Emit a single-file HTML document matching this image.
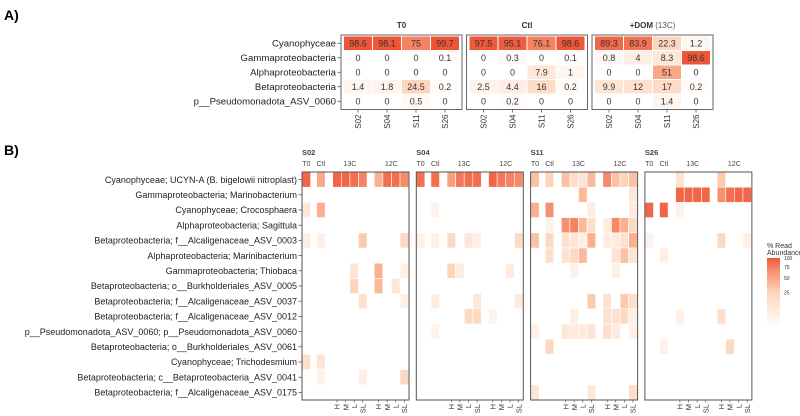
<!DOCTYPE html>
<html><head><meta charset="utf-8">
<style>
html,body{margin:0;padding:0;background:#fff;}
svg{display:block;font-family:"Liberation Sans",Arial,sans-serif;}
</style></head>
<body>
<svg id="chart" width="800" height="416" viewBox="0 0 800 416" xmlns="http://www.w3.org/2000/svg">
<text x="4" y="20" font-size="14" font-weight="bold">A)</text>
<text x="4" y="155" font-size="14" font-weight="bold">B)</text>
</svg>
<script>
// ---------- Panel A data ----------
const aTaxa = ["Cyanophyceae","Gammaproteobacteria","Alphaproteobacteria","Betaproteobacteria","p__Pseudomonadota_ASV_0060"];
const aGroups = ["T0","Ctl","+DOM"];
const aSamples = ["S02","S04","S11","S26"];
const aT0 = [[98.6,98.1,75,99.7],[0,0,0,0.1],[0,0,0,0],[1.4,1.8,24.5,0.2],[0,0,0.5,0]];
const aCtl = [[97.5,95.1,76.1,98.6],[0,0.3,0,0.1],[0,0,7.9,1],[2.5,4.4,16,0.2],[0,0.2,0,0]];
const aDom = [[89.3,83.9,22.3,1.2],[0.8,4,8.3,98.6],[0,0,51,0],[9.9,12,17,0.2],[0,0,1.4,0]];

// ---------- Panel B data ----------
const bTaxa = ["Cyanophyceae; UCYN-A (B. bigelowii nitroplast)","Gammaproteobacteria; Marinobacterium","Cyanophyceae; Crocosphaera","Alphaproteobacteria; Sagittula","Betaproteobacteria; f__Alcaligenaceae_ASV_0003","Alphaproteobacteria; Marinibacterium","Gammaproteobacteria; Thiobaca","Betaproteobacteria; o__Burkholderiales_ASV_0005","Betaproteobacteria; f__Alcaligenaceae_ASV_0037","Betaproteobacteria; f__Alcaligenaceae_ASV_0012","p__Pseudomonadota_ASV_0060; p__Pseudomonadota_ASV_0060","Betaproteobacteria; o__Burkholderiales_ASV_0061","Cyanophyceae; Trichodesmium","Betaproteobacteria; c__Betaproteobacteria_ASV_0041","Betaproteobacteria; f__Alcaligenaceae_ASV_0175"];
const bSites = ["S02","S04","S11","S26"];
const bCols = ["T0","Ctl","H13","M13","L13","SL13","H12","M12","L12","SL12"];
const bColLabels = ["","","H","M","L","SL","H","M","L","SL"];
const bS02 = [
 [90,50,90,90,85,75,45,85,85,70],
 [0,0,0,0,0,0,0,0,0,0],
 [8,45,0,0,0,0,0,0,0,0],
 [0,0,0,0,0,0,0,0,0,0],
 [4,4,0,0,0,30,0,0,0,20],
 [0,0,0,0,0,0,0,0,0,0],
 [0,0,0,0,10,0,45,0,0,3],
 [0,0,0,0,25,0,40,0,8,0],
 [0,0,0,0,0,12,0,0,0,3],
 [0,0,0,0,0,0,0,0,0,0],
 [0,0,0,0,0,0,0,0,0,0],
 [0,0,0,0,0,0,0,0,0,0],
 [15,10,0,0,0,0,0,0,0,0],
 [0,2,0,0,0,4,0,0,0,20],
 [0,0,0,0,0,0,0,0,0,0]];
const bS04 = [
 [85,85,55,80,85,85,90,80,75,70],
 [0,0,0,0,0,0,0,0,0,0],
 [0,2,0,0,0,0,0,0,0,0],
 [0,0,0,0,0,0,0,0,0,0],
 [3,3,20,0,8,3,0,0,0,18],
 [0,0,0,0,0,0,0,0,0,0],
 [0,0,25,5,0,0,0,0,5,0],
 [0,0,0,0,0,0,0,0,0,0],
 [0,5,0,0,0,8,0,0,0,6],
 [0,0,0,0,18,18,2,0,0,0],
 [0,2,0,0,0,0,0,0,0,0],
 [0,0,0,0,0,0,0,0,0,0],
 [0,0,0,0,0,0,0,0,0,0],
 [0,0,0,0,0,0,0,0,0,0],
 [0,0,0,0,0,0,0,0,0,0]];
const bS11 = [
 [35,25,35,15,10,40,70,35,25,35],
 [0,0,0,0,40,0,0,0,0,8],
 [45,65,0,0,0,5,0,0,0,6],
 [0,2,65,75,40,15,5,70,45,20],
 [35,20,12,8,4,45,5,6,12,45],
 [0,15,12,20,40,0,0,10,35,10],
 [0,0,0,3,0,0,0,3,0,0],
 [0,0,0,0,0,0,0,0,0,0],
 [0,0,0,0,0,30,12,0,30,15],
 [0,0,0,4,0,0,12,12,20,3],
 [3,0,8,6,6,10,15,6,0,3],
 [0,20,0,0,0,0,0,0,0,0],
 [0,0,0,0,0,0,0,0,0,0],
 [0,0,0,0,0,0,0,0,0,0],
 [8,0,0,0,0,8,0,0,0,15]];
const bS26 = [
 [0,0,12,0,0,0,30,0,0,0],
 [0,0,90,90,90,90,65,85,90,90],
 [90,90,2,0,0,0,0,0,0,0],
 [0,0,0,0,0,0,0,0,0,0],
 [2,0,0,0,0,0,20,0,0,3],
 [0,4,0,0,0,0,0,0,0,0],
 [0,0,0,0,0,0,0,0,0,0],
 [0,0,0,0,0,0,0,0,0,0],
 [0,0,0,0,0,0,0,0,0,0],
 [0,0,3,0,0,0,15,0,0,0],
 [0,0,0,0,0,0,0,0,0,0],
 [0,2,0,0,0,0,0,20,0,0],
 [0,0,0,0,0,0,0,0,0,0],
 [0,0,0,0,0,0,0,0,0,0],
 [0,0,0,0,0,0,0,0,0,0]];
const legendTicks = [100,75,50,25];

const NS = "http://www.w3.org/2000/svg";
const svg = document.getElementById("chart");
function mk(tag, attrs, parent){
  const e = document.createElementNS(NS, tag);
  for (const k in attrs) e.setAttribute(k, attrs[k]);
  (parent||svg).appendChild(e);
  return e;
}
const stops = [[0,[255,255,255]],[0.5,[252,213,187]],[0.71,[249,168,133]],[0.87,[244,130,98]],[1,[238,84,54]]];
function color(v){
  const t = Math.sqrt(Math.max(0,Math.min(100,v))/100);
  for (let i=1;i<stops.length;i++){
    if (t<=stops[i][0]){
      const a=stops[i-1], b=stops[i], f=(t-a[0])/(b[0]-a[0]);
      const c=a[1].map((x,k)=>Math.round(x+(b[1][k]-x)*f));
      return "rgb("+c.join(",")+")";
    }
  }
  return "rgb(238,84,54)";
}

// ---------- Panel A ----------
const aBoxX = g => 341 + g*125.5;
const aBoxW = 121, aTop = 35, aRowH = 14.5, aCellW = 29;
const aCellX = (g,j) => aBoxX(g) + 2.5 + j*aCellW;
const aCellY = r => aTop + 1 + r*aRowH;
const aData = [aT0, aCtl, aDom];
aTaxa.forEach((t,r)=>{
  const tx = mk("text",{x:336,y:aCellY(r)+aRowH/2+3.3,"font-size":9.6,"text-anchor":"end",fill:"#222"});
  tx.textContent = t;
  
  
  const tk = mk("line",{x1:337.5,x2:341,y1:aCellY(r)+aRowH/2,y2:aCellY(r)+aRowH/2,stroke:"#444","stroke-width":0.7});
  
  
});
aGroups.forEach((gname,g)=>{
  const title = mk("text",{x:aBoxX(g)+aBoxW/2,y:28,"font-size":8,"text-anchor":"middle","font-weight":"bold",fill:"#333"});
  if (gname==="+DOM"){ title.innerHTML = '+DOM <tspan font-weight="normal" fill="#555">(13C)</tspan>'; }
  else title.textContent = gname;
  
  
  aData[g].forEach((row,r)=>{
    row.forEach((v,j)=>{
      const rc = mk("rect",{x:aCellX(g,j),y:aCellY(r),width:aCellW,height:aRowH,fill:color(v),stroke:"#fff","stroke-width":1});
      
      
      const tv = mk("text",{x:aCellX(g,j)+aCellW/2,y:aCellY(r)+aRowH/2+3.2,"font-size":9,"text-anchor":"middle",fill:"#333"});
      tv.textContent = String(v);
      
      
    });
  });
  const box = mk("rect",{x:aBoxX(g),y:aTop,width:aBoxW,height:aRowH*5+2,fill:"none",stroke:"#666","stroke-width":1});
  
  
  aSamples.forEach((s,j)=>{
    const cx = aCellX(g,j)+aCellW/2;
    const tk = mk("line",{x1:cx,x2:cx,y1:aTop+aRowH*5+2,y2:aTop+aRowH*5+5,stroke:"#444","stroke-width":0.7});
    
    
    const lb = mk("text",{x:0,y:0,"font-size":8,"text-anchor":"end",fill:"#333",transform:"translate("+(cx+3)+","+(aTop+aRowH*5+7)+") rotate(-90)"});
    lb.textContent = s;
    
    
  });
});

// ---------- Panel B ----------
const bData = [bS02, bS04, bS11, bS26];
const bPanelX = p => 302 + p*114.3;
const bPanelW = 107, bTop = 172, bRowH = 15.2, bCellW = 8.6;
function bSlot(i){ return i<2 ? i*1.7 : (i<6 ? 3.57+(i-2) : 8.4+(i-6)); }
const bCellX = (p,i) => bPanelX(p) + bSlot(i)*bCellW;
const bCellY = r => bTop + r*bRowH;
bTaxa.forEach((t,r)=>{
  const tx = mk("text",{x:297,y:bCellY(r)+bRowH/2+3.2,"font-size":9,"text-anchor":"end",fill:"#222"});
  tx.textContent = t;
  
  
  const tk = mk("line",{x1:298.5,x2:302,y1:bCellY(r)+bRowH/2,y2:bCellY(r)+bRowH/2,stroke:"#444","stroke-width":0.7});
  
  
});
bSites.forEach((site,p)=>{
  const st = mk("text",{x:bPanelX(p),y:155,"font-size":7.5,"font-weight":"bold",fill:"#444"});
  st.textContent = site;
  
  
  const heads = [["T0",bCellX(p,0)+bCellW/2],["Ctl",bCellX(p,1)+bCellW/2],["13C",(bCellX(p,2)+bCellX(p,5)+bCellW)/2],["12C",(bCellX(p,6)+bCellX(p,9)+bCellW)/2]];
  heads.forEach(h=>{
    const ht = mk("text",{x:h[1],y:166,"font-size":7,"text-anchor":"middle",fill:"#444"});
    ht.textContent = h[0];
    
    
  });
  bData[p].forEach((row,r)=>{
    row.forEach((v,i)=>{
      if (v<=0) return;
      const rc = mk("rect",{x:bCellX(p,i),y:bCellY(r),width:bCellW,height:bRowH,fill:color(v),stroke:"#fff","stroke-width":0.6});
      
      
    });
  });
  const box = mk("rect",{x:bPanelX(p),y:bTop,width:bPanelW,height:bRowH*15,fill:"none",stroke:"#555","stroke-width":1});
  
  
  bColLabels.forEach((lab,i)=>{
    if (!lab) return;
    const cx = bCellX(p,i)+bCellW/2;
    const tk = mk("line",{x1:cx,x2:cx,y1:bTop+bRowH*15,y2:bTop+bRowH*15+2.5,stroke:"#444","stroke-width":0.6});
    
    
    const lb = mk("text",{x:0,y:0,"font-size":7.5,"text-anchor":"end",fill:"#333",transform:"translate("+(cx+2.7)+","+(bTop+bRowH*15+4)+") rotate(-90)"});
    lb.textContent = lab;
    
    
  });
});

// ---------- Legend ----------
const defs = mk("defs",{});
const grad = mk("linearGradient",{id:"lg",x1:0,y1:1,x2:0,y2:0},defs);
for (let k=0;k<=20;k++){
  const v = 100*Math.pow(k/20,2);
  mk("stop",{offset:(k/20),"stop-color":color(v)},grad);
}
const lgTop = 258, lgBot = 327, lgX = 767, lgW = 13;
const lgY = v => lgBot - (lgBot-lgTop)*Math.sqrt(v/100);
const lt1 = mk("text",{x:767,y:248,"font-size":7,fill:"#333"});
lt1.textContent = "% Read";


const lt2 = mk("text",{x:767,y:255,"font-size":7,fill:"#333"});
lt2.textContent = "Abundance";


const bar = mk("rect",{x:lgX,y:lgTop,width:lgW,height:lgBot-lgTop,fill:"url(#lg)"});


legendTicks.forEach(v=>{
  const t = mk("text",{x:lgX+lgW+4,y:lgY(v)+2,"font-size":5,fill:"#333"});
  t.textContent = String(v);
  
  
});
</script>
</body></html>
